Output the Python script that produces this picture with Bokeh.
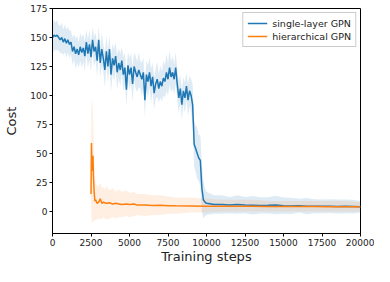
from bokeh.plotting import figure
from bokeh.models import FixedTicker, Range1d, Legend, LegendItem, NumeralTickFormatter
from bokeh.embed import file_html
from bokeh.resources import INLINE

# ---- data: single-layer GPN (blue) ----
blue_x = list(range(0, 10001, 100)) + [10500, 11000, 11500, 12000, 12500, 13000, 13500, 14000,
                                       14500, 15000, 15500, 16000, 16500, 17000, 17500, 18000,
                                       18500, 19000, 19500, 20000]
blue_mean = [150, 152, 151, 152, 150, 148, 150, 146, 149, 145,
             148, 144, 146, 138, 142, 136, 140, 135, 142, 137,
             141, 134, 146, 136, 144, 133, 148, 138, 142, 130,
             148, 128, 140, 132, 122, 138, 125, 140, 118, 132,
             126, 134, 120, 128, 122, 130, 118, 124, 105, 126,
             118, 124, 110, 125, 120, 116, 122, 118, 114, 120,
             96, 118, 112, 120, 108, 116, 102, 110, 114, 106,
             112, 108, 115, 112, 120, 114, 124, 116, 120, 114,
             124, 110, 98, 106, 92, 104, 98, 108, 96, 104,
             100, 92, 58, 54, 50, 46, 44, 20, 10, 8,
             7,
             6, 6, 5.5, 6, 5.5, 5.4, 5.2, 5.3, 5.5, 5,
             4.8, 5, 4.6, 4.5, 4.4, 4.6, 4.3, 4.4, 4.2, 4]
blue_spread = [14, 13, 12, 13, 11, 12, 13, 11, 12, 12,
               11, 12, 10, 12, 11, 13, 12, 11, 12, 13,
               12, 13, 11, 12, 13, 12, 11, 13, 12, 14,
               12, 13, 14, 12, 15, 13, 14, 12, 15, 13,
               14, 12, 15, 13, 14, 12, 15, 13, 14, 12,
               14, 13, 15, 12, 14, 13, 15, 12, 14, 13,
               15, 12, 14, 13, 15, 12, 14, 13, 15, 12,
               14, 13, 15, 14, 16, 14, 15, 13, 14, 13,
               14, 13, 14, 12, 13, 12, 13, 12, 14, 13,
               14, 18, 20, 20, 22, 20, 22, 20, 16, 12,
               10,
               8, 8, 7, 8, 7, 8, 7, 7, 8, 7,
               7, 6, 7, 6, 6, 6, 6, 6, 6, 5]

# ---- data: hierarchical GPN (orange) ----
orange_x = [2500, 2530, 2560, 2600, 2630, 2660, 2700, 2750, 2800, 2900,
            3000, 3100, 3200, 3300, 3400, 3500, 3700, 3900, 4100, 4300,
            4500, 4800, 5000, 5300, 5500, 6000, 6500, 7000, 7500, 8000,
            9000, 10000, 11000, 12000, 13000, 14000, 15000, 16000, 17000, 18000,
            19000, 20000]
orange_mean = [15, 59, 40, 35, 48, 30, 18, 9, 10, 7,
               8, 11, 7, 8, 7.5, 7, 7.5, 6.5, 7, 6.5,
               6, 6.5, 6, 6.5, 5.5, 5.5, 5.2, 5.3, 5, 4.9,
               4.8, 4.6, 4.5, 4.5, 4.4, 4.3, 4.3, 4.2, 4.2, 4.1,
               4.1, 4]
orange_lower = [10, -5, -8, -10, -8, -9, -8, -7, -8, -7,
                -6, -7, -6, -5, -6, -7, -6, -5, -6, -5,
                -5, -4, -5, -4, -3, -4, -3, -3, -2, -2,
                -1, -1, 0, 0, 0, 0, 0, 0, 0, 0,
                0, 0]
orange_upper = [25, 100, 90, 95, 85, 70, 45, 30, 25, 22,
                22, 25, 20, 21, 19, 22, 18, 20, 17, 19,
                17, 18, 16, 17, 15, 15, 14, 14, 13, 12,
                12, 11, 10, 10, 10, 9, 9, 9, 9, 9,
                9, 8]

blue_lower = [m - s for m, s in zip(blue_mean, blue_spread)]
blue_upper = [m + s for m, s in zip(blue_mean, blue_spread)]

x_ticks = [0, 2500, 5000, 7500, 10000, 12500, 15000, 17500, 20000]
y_ticks = [0, 25, 50, 75, 100, 125, 150, 175]

BLUE = "#1f77b4"
ORANGE = "#ff7f0e"

p = figure(width=374, height=266, output_backend="svg", toolbar_location=None,
           x_range=Range1d(0, 20000), y_range=Range1d(-19, 175),
           min_border_left=52, min_border_right=14, min_border_top=8, min_border_bottom=0)

p.varea(x=blue_x, y1=blue_lower, y2=blue_upper, fill_color=BLUE, fill_alpha=0.15)
p.varea(x=orange_x, y1=orange_lower, y2=orange_upper, fill_color=ORANGE, fill_alpha=0.12)
r1 = p.line(blue_x, blue_mean, line_color=BLUE, line_width=1.5)
r2 = p.line(orange_x, orange_mean, line_color=ORANGE, line_width=1.5)

p.xgrid.visible = False
p.ygrid.visible = False
p.outline_line_color = "black"
p.outline_line_alpha = 1
p.outline_line_width = 1

for ax in (p.xaxis[0], p.yaxis[0]):
    ax.major_label_text_font = "DejaVu Sans"
    ax.major_label_text_font_size = "9px"
    ax.major_label_text_color = "#222222"
    ax.axis_label_text_font = "DejaVu Sans"
    ax.axis_label_text_font_size = "13px"
    ax.axis_label_text_font_style = "normal"
    ax.axis_label_text_color = "#222222"
    ax.minor_tick_line_color = None
    ax.major_tick_out = 3
    ax.major_tick_in = 0
    ax.axis_line_color = "black"
    ax.major_label_standoff = 2

p.xaxis.ticker = FixedTicker(ticks=x_ticks)
p.yaxis.ticker = FixedTicker(ticks=y_ticks)
p.xaxis.formatter = NumeralTickFormatter(format="0")
p.xaxis.axis_label = "Training steps"
p.yaxis.axis_label = "Cost"
p.xaxis.axis_label_standoff = 0
p.yaxis.axis_label_standoff = 8

legend = Legend(items=[LegendItem(label="single-layer GPN", renderers=[r1]),
                       LegendItem(label="hierarchical GPN", renderers=[r2])],
                location="top_right")
legend.label_text_font = "DejaVu Sans"
legend.label_text_font_size = "9.5px"
legend.label_text_color = "#222222"
legend.glyph_width = 20
legend.glyph_height = 12
legend.label_height = 12
legend.spacing = 1
legend.padding = 4
legend.margin = 4
legend.border_line_color = "#cccccc"
legend.border_line_alpha = 1
legend.background_fill_alpha = 0.8
p.add_layout(legend)

open("out.html", "w").write(file_html(p, INLINE))
